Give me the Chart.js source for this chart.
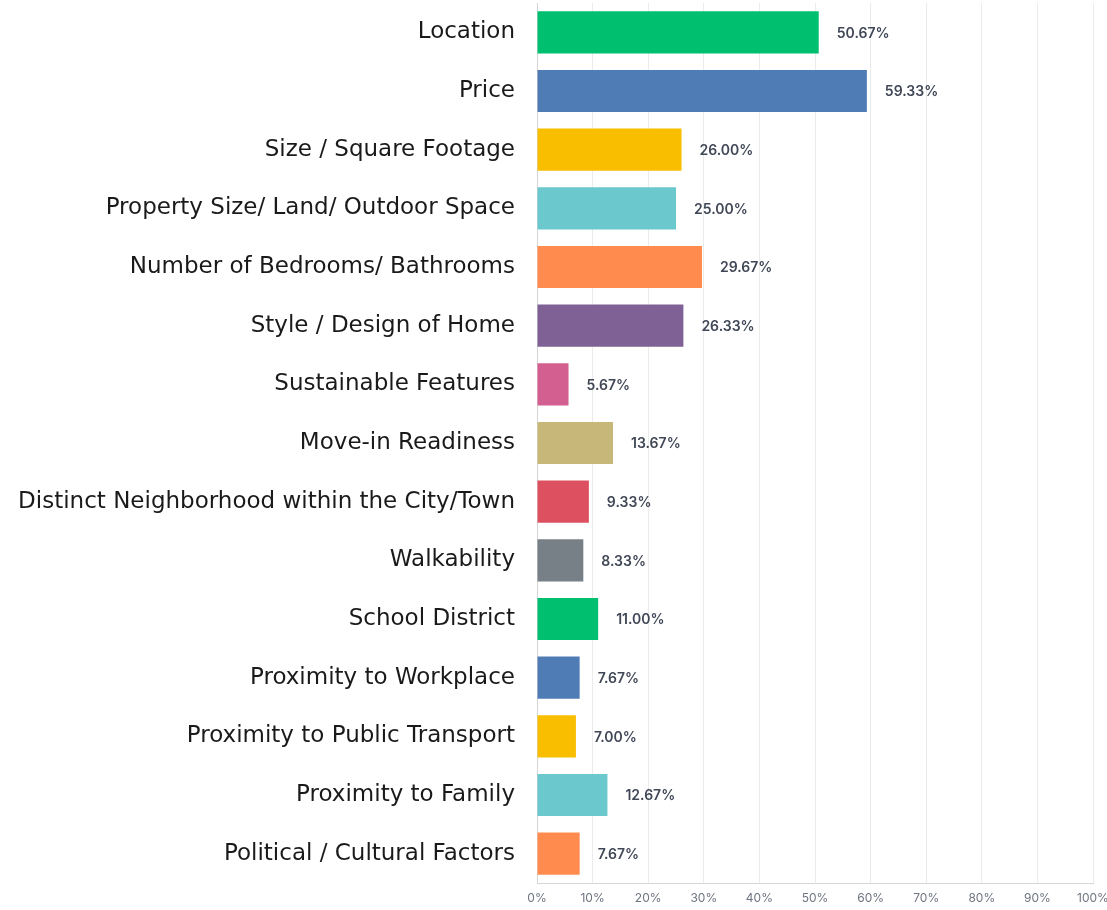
<!DOCTYPE html>
<html>
<head>
<meta charset="utf-8">
<script src="https://cdn.jsdelivr.net/npm/chart.js@4"></script>
<style>
html,body{margin:0;padding:0;background:#fff;}
#wrap{width:1107px;height:910px;position:relative;}
</style>
</head>
<body>
<div id="wrap"><canvas id="c" width="1107" height="910"></canvas></div>
<script>
const categories = [
  "Location",
  "Price",
  "Size / Square Footage",
  "Property Size/ Land/ Outdoor Space",
  "Number of Bedrooms/ Bathrooms",
  "Style / Design of Home",
  "Sustainable Features",
  "Move-in Readiness",
  "Distinct Neighborhood within the City/Town",
  "Walkability",
  "School District",
  "Proximity to Workplace",
  "Proximity to Public Transport",
  "Proximity to Family",
  "Political / Cultural Factors"
];
const values = [50.67, 59.33, 26.00, 25.00, 29.67, 26.33, 5.67, 13.67, 9.33, 8.33, 11.00, 7.67, 7.00, 12.67, 7.67];
const barColors = ["#00BF6F","#507CB6","#F9BE00","#6BC8CD","#FF8B4F","#7F6195","#D25F90","#C7B879","#DC5060","#768086","#00BF6F","#507CB6","#F9BE00","#6BC8CD","#FF8B4F"];
const xTickValues = [0,10,20,30,40,50,60,70,80,90,100];

const valueLabels = {
  id: 'valueLabels',
  afterDatasetsDraw(chart) {
    const ctx = chart.ctx;
    const meta = chart.getDatasetMeta(0);
    ctx.save();
    ctx.font = '600 14px Inter, "Noto Sans", sans-serif';
    ctx.fillStyle = '#404756';
    ctx.textAlign = 'left';
    ctx.textBaseline = 'middle';
    meta.data.forEach((bar, i) => {
      ctx.fillText(values[i].toFixed(2) + '%', bar.x + 18, bar.y + 1);
    });
    ctx.restore();
  }
};

new Chart(document.getElementById('c'), {
  type: 'bar',
  data: {
    labels: categories,
    datasets: [{
      data: values,
      backgroundColor: barColors,
      borderWidth: 0,
      barPercentage: 0.72,
      categoryPercentage: 1.0
    }]
  },
  options: {
    indexAxis: 'y',
    responsive: false,
    animation: false,
    devicePixelRatio: 1,
    layout: { padding: { top: 3, right: 14, bottom: 0, left: 0 } },
    plugins: { legend: { display: false }, tooltip: { enabled: false } },
    scales: {
      x: {
        min: 0, max: 100,
        afterBuildTicks(scale) { scale.ticks = xTickValues.map(v => ({ value: v })); },
        afterFit(scale) { scale.height = 27; scale.paddingLeft = 0; scale.paddingRight = 0; },
        grid: { color: '#EBEBEB', drawTicks: false, lineWidth: 1 },
        border: { color: '#D6D6D6', width: 1 },
        ticks: {
          padding: 8,
          color: '#6E7480',
          font: { family: 'Inter, "Noto Sans", sans-serif', size: 12 },
          callback: v => v + '%',
          maxRotation: 0
        }
      },
      y: {
        afterFit(scale) { scale.width = 537; scale.paddingTop = 0; scale.paddingBottom = 0; },
        grid: { display: false, drawTicks: false },
        border: { color: '#D6D6D6', width: 1 },
        ticks: {
          padding: 22,
          color: '#1A1A1A',
          font: { family: '"DejaVu Sans", sans-serif', size: 23 },
          autoSkip: false
        }
      }
    }
  },
  plugins: [valueLabels]
});
</script>
</body>
</html>
